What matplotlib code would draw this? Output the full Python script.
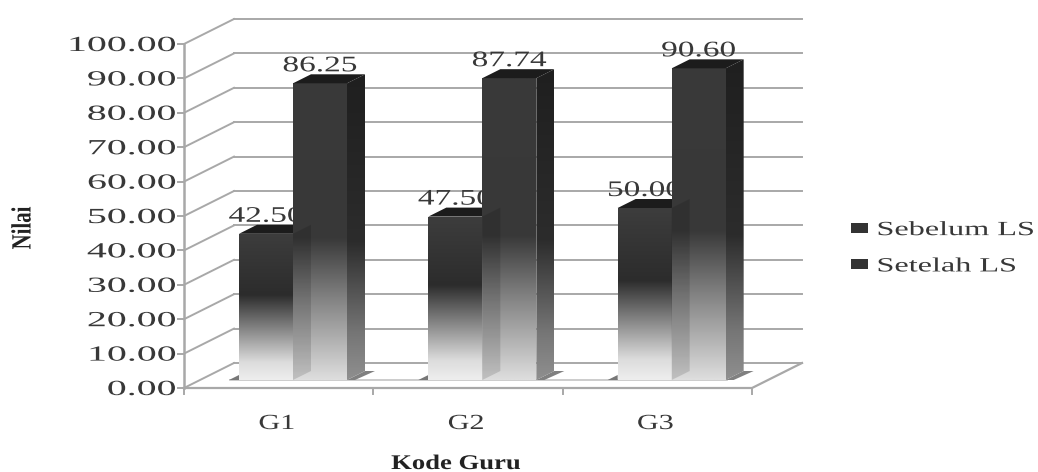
"""
Pseudo 3D column chart: teacher scores before and after lesson study.
The axes run in image pixels, bars are worked out from the values.
"""
import numpy as np
import matplotlib
matplotlib.use('Agg')
import matplotlib.pyplot as plt
from matplotlib.colors import LinearSegmentedColormap
from matplotlib.patches import Patch, Polygon
from matplotlib.patheffects import AbstractPathEffect
from matplotlib.transforms import Affine2D

categories = ['G1', 'G2', 'G3']
sebelum = [42.50, 47.50, 50.00]
setelah = [86.25, 87.74, 90.60]
y_ticks = [0, 10, 20, 30, 40, 50, 60, 70, 80, 90, 100]
series_names = ['Sebelum LS', 'Setelah LS']

# layout, px
AXIS_X, AXIS_Y = 184, 388
UNIT = 3.44
WALL_DX, WALL_DY = 50, -25
FRONT_W = 568
CAT_W = FRONT_W / len(categories)
FLOOR_DX, FLOOR_DY = 0, -8
BAR_START, BAR_W = 55, 54
BAR_DX, BAR_DY = 18, -9

GRID = '#a8a8a8'
TEXT = '#383838'

front_old = LinearSegmentedColormap.from_list(
    'old', [(0, '#3d3d3d'), (0.42, '#2c2c2c'), (0.66, '#888888'), (0.88, '#dcdcdc'), (1, '#eeeeee')])
front_new = LinearSegmentedColormap.from_list(
    'new', [(0, '#3a3a3a'), (0.52, '#383838'), (0.72, '#808080'), (0.9, '#bcbcbc'), (1, '#dedede')])
side_cmap = LinearSegmentedColormap.from_list(
    'side', [(0, '#1f1f1f'), (0.55, '#2c2c2c'), (0.85, '#767676'), (1, '#8f8f8f')])


class Stretch(AbstractPathEffect):
    """Widens glyphs along the reading direction, the source picture is stretched."""

    def __init__(self, sx, pivot='center'):
        super().__init__()
        self.sx = sx
        self.pivot = pivot

    def draw_path(self, renderer, gc, tpath, affine, rgbFace=None):
        box = tpath.get_extents()
        p = {'center': (box.x0 + box.x1) / 2, 'right': box.x1, 'left': box.x0}[self.pivot]
        stretch = Affine2D().translate(-p, 0).scale(self.sx, 1).translate(p, 0)
        renderer.draw_path(gc, tpath, stretch + affine, rgbFace)


def val_y(value):
    return AXIS_Y - value * UNIT


def gradient(ax, cmap, poly):
    """Vertical gradient inside a polygon."""
    poly = np.array(poly)
    grad = np.linspace(0, 1, 256).reshape(-1, 1)
    top, bottom = poly[:, 1].min(), poly[:, 1].max()
    im = ax.imshow(grad, cmap=cmap, aspect='auto', interpolation='bilinear', zorder=3,
                   extent=(poly[:, 0].min(), poly[:, 0].max(), bottom, top))
    im.set_clip_path(Polygon(poly, transform=ax.transData))


def draw_bar(ax, x, value, cmap):
    base = AXIS_Y + FLOOR_DY
    top = base - value * UNIT
    gradient(ax, cmap, [(x, top), (x + BAR_W, top), (x + BAR_W, base), (x, base)])
    gradient(ax, side_cmap, [(x + BAR_W, top), (x + BAR_W + BAR_DX, top + BAR_DY),
                             (x + BAR_W + BAR_DX, base + BAR_DY), (x + BAR_W, base)])
    ax.add_patch(Polygon([(x, top), (x + BAR_DX, top + BAR_DY), (x + BAR_W + BAR_DX, top + BAR_DY),
                          (x + BAR_W, top)], fc='#1c1c1c', ec='none', zorder=3))


def draw_walls(ax):
    for tick in y_ticks:
        y = val_y(tick)
        ax.plot([AXIS_X - 6, AXIS_X], [y, y], color=GRID, lw=1.4, zorder=1)
        ax.plot([AXIS_X, AXIS_X + WALL_DX], [y, y + WALL_DY], color=GRID, lw=1.4, zorder=1)
        ax.plot([AXIS_X + WALL_DX, AXIS_X + FRONT_W + WALL_DX], [y + WALL_DY, y + WALL_DY],
                color=GRID, lw=1.4, zorder=1)
        ax.text(176, y + 7, '{:.2f}'.format(tick), ha='right', va='baseline', color=TEXT,
                family='Liberation Serif', fontsize=15.5, path_effects=[Stretch(1.85, 'right')])
    ax.plot([AXIS_X, AXIS_X], [val_y(100), AXIS_Y], color=GRID, lw=1.8, zorder=2)
    right = AXIS_X + FRONT_W
    ax.plot([AXIS_X, right, right + WALL_DX], [AXIS_Y, AXIS_Y, AXIS_Y + WALL_DY],
            color=GRID, lw=1.6, zorder=2)
    ax.plot([AXIS_X + 46, right - 25], [AXIS_Y + FLOOR_DY, AXIS_Y + FLOOR_DY],
            color='#c4c4c4', lw=1.2, zorder=2)
    for i in range(len(categories) + 1):
        x = AXIS_X + i * CAT_W
        ax.plot([x, x], [AXIS_Y, AXIS_Y + 6], color=GRID, lw=1.4, zorder=2)


fig = plt.figure(figsize=(10.38, 4.72), dpi=100)
ax = fig.add_axes([0, 0, 1, 1])
draw_walls(ax)

base_y = AXIS_Y + FLOOR_DY
for i, name in enumerate(categories):
    x_old = AXIS_X + i * CAT_W + BAR_START
    x_new = x_old + BAR_W
    # little shadows on the floor
    ax.add_patch(Polygon([(x_old - 10, base_y), (x_old, base_y - 5), (x_old, base_y)],
                         fc='#777777', ec='none', zorder=2))
    ax.add_patch(Polygon([(x_new + BAR_W, base_y), (x_new + BAR_W + BAR_DX, base_y + BAR_DY),
                          (x_new + BAR_W + BAR_DX + 10, base_y + BAR_DY), (x_new + BAR_W + 8, base_y)],
                         fc='#808080', ec='none', zorder=2))
    draw_bar(ax, x_old, sebelum[i], front_old)
    draw_bar(ax, x_new, setelah[i], front_new)
    # side of the first bar shows through the second one
    top_old = base_y - sebelum[i] * UNIT
    ax.add_patch(Polygon([(x_new, top_old), (x_new + BAR_DX, top_old + BAR_DY),
                          (x_new + BAR_DX, base_y + BAR_DY), (x_new, base_y)],
                         fc='black', alpha=0.13, ec='none', zorder=3))

    ax.text(x_old + BAR_W / 2, val_y(sebelum[i]) + FLOOR_DY - 12, '{:.2f}'.format(sebelum[i]),
            ha='center', va='baseline', color=TEXT, family='Liberation Serif', fontsize=16,
            zorder=4, path_effects=[Stretch(1.5)])
    ax.text(x_new + BAR_W / 2, val_y(setelah[i]) + FLOOR_DY - 12, '{:.2f}'.format(setelah[i]),
            ha='center', va='baseline', color=TEXT, family='Liberation Serif', fontsize=16,
            zorder=4, path_effects=[Stretch(1.5)])
    ax.text(AXIS_X + (i + 0.5) * CAT_W - 2, 429, name, ha='center', va='baseline', color=TEXT,
            family='Liberation Serif', fontsize=15.5, path_effects=[Stretch(1.4)])

ax.text(456, 469, 'Kode Guru', ha='center', va='baseline', color='#222222', fontweight='bold',
        family='Liberation Serif', fontsize=15, path_effects=[Stretch(1.28)])
ax.text(24, 228, 'Nilai', rotation=90, ha='center', va='center', rotation_mode='anchor',
        color='#222222', fontweight='bold', family='Liberation Serif', fontsize=20,
        path_effects=[Stretch(0.75)])

handles = [Patch(fc='#333333', label=series_names[0]), Patch(fc='#333333', label=series_names[1])]
leg = ax.legend(handles=handles, loc='upper left', bbox_to_anchor=(835, 205),
                bbox_transform=ax.transData, frameon=False,
                prop={'family': 'Liberation Serif', 'size': 14.5}, handlelength=0.85,
                handleheight=0.4, handletextpad=0.45, labelspacing=0.86, borderpad=0.3)
for text in leg.get_texts():
    text.set_color(TEXT)
    text.set_path_effects([Stretch(1.6, 'left')])

ax.set_xlim(0, 1038)
ax.set_ylim(472, 0)
ax.axis('off')
fig.savefig('out.png', dpi=100)
